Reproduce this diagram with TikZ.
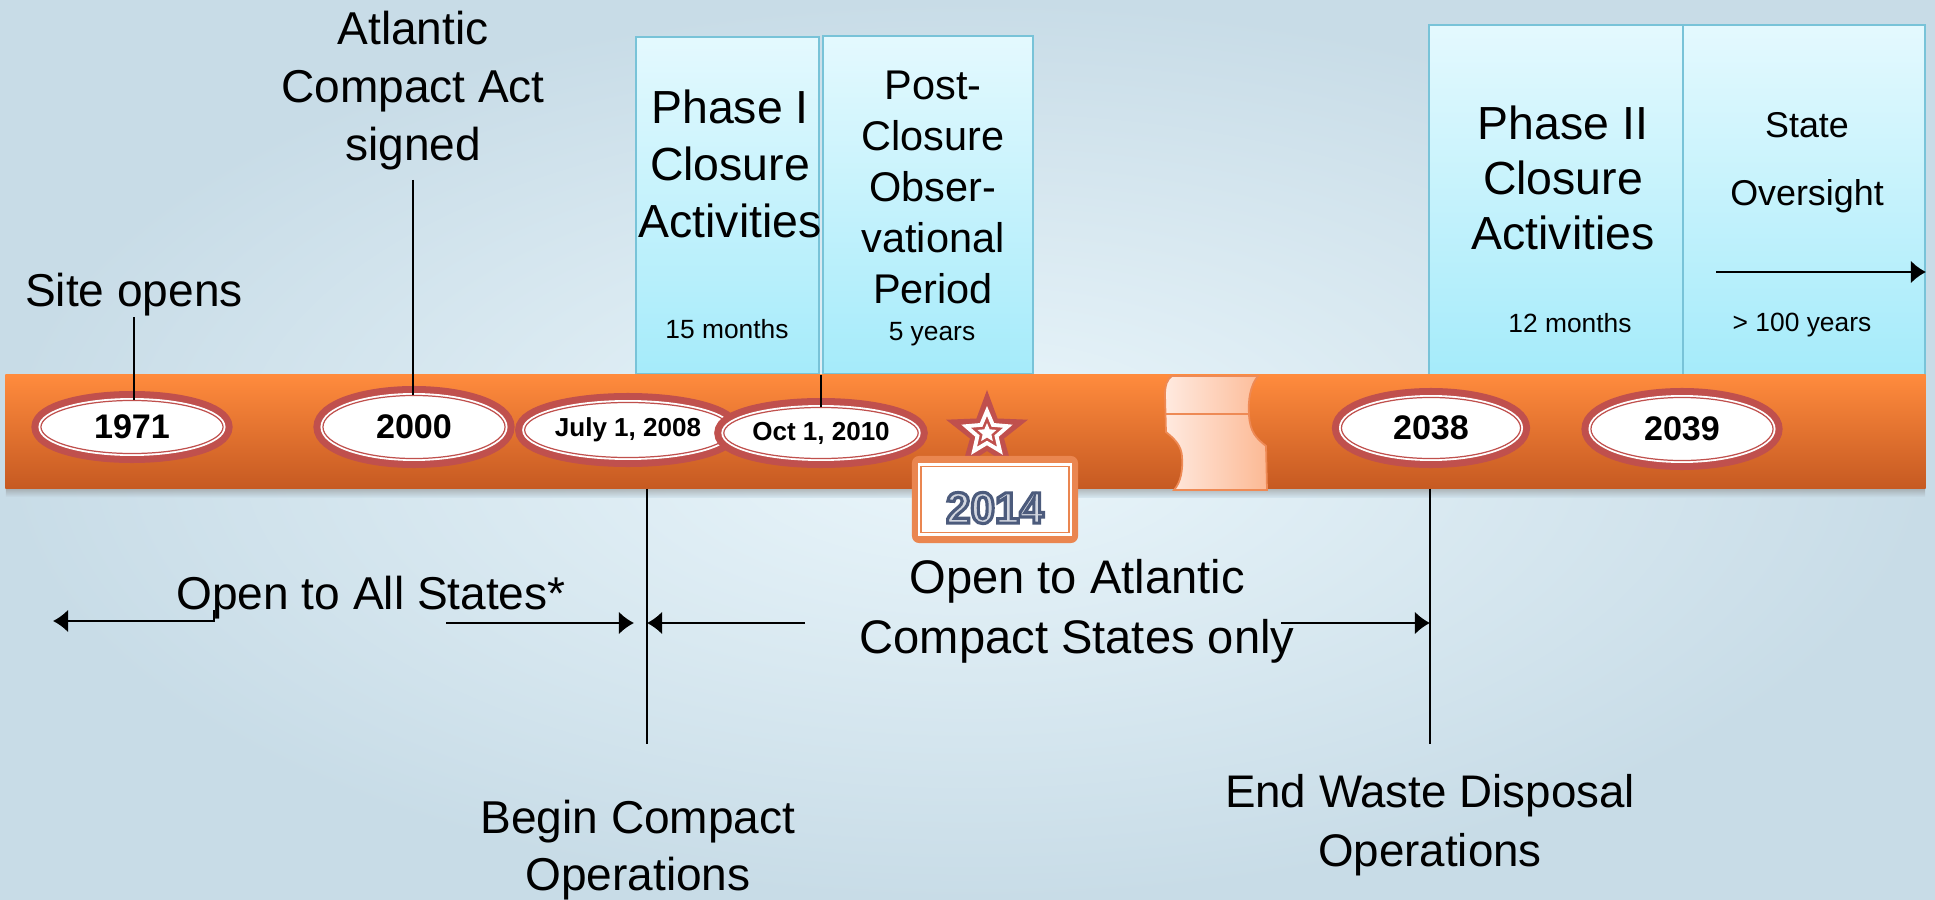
\documentclass[tikz,border=0pt]{standalone}
\usepackage{fontspec}
\setmainfont{Liberation Sans}
\usepackage{tikz}
\usetikzlibrary{shapes,arrows.meta,positioning}

\definecolor{bgout}{HTML}{C8DCE7}
\definecolor{bgin}{HTML}{EAF6FB}
\definecolor{bandtop}{HTML}{FF8B3D}
\definecolor{bandmid}{HTML}{F2772E}
\definecolor{bandbot}{HTML}{C65A22}
\definecolor{datered}{HTML}{C0504D}
\definecolor{boxtop}{HTML}{E4F9FE}
\definecolor{boxbot}{HTML}{A5EBFA}
\definecolor{boxline}{HTML}{78C3D8}
\definecolor{peachl}{HTML}{FFEAE0}
\definecolor{peachd}{HTML}{FCB994}
\definecolor{peachline}{HTML}{EE8A55}
\definecolor{tagorange}{HTML}{EA8650}
\definecolor{slate}{HTML}{4C5B7C}
\definecolor{slatefill}{HTML}{D3D7E0}

% outlined year text
\newcommand{\outlined}[1]{{\color{slatefill}\special{pdf:literal direct 2 Tr 0.9 w 0.298 0.357 0.486 RG}#1\special{pdf:literal direct 0 Tr}}}

\tikzset{
  band/.style={rectangle, inner sep=0pt, minimum width=19.19cm, minimum height=1.13cm,
    top color=bandtop, middle color=bandmid, bottom color=bandbot},
  datebubble/.style={ellipse, inner sep=0pt, fill=white, draw=datered, line width=0.35pt,
    preaction={draw=datered, line width=5.4pt}, preaction={draw=white, line width=1.4pt},
    font=\bfseries\fontsize{9.7}{10}\selectfont},
  smalldate/.style={datebubble, font=\bfseries\fontsize{7.4}{8}\selectfont},
  phasebox/.style={rectangle, inner sep=0pt, draw=boxline, line width=0.5pt,
    top color=boxtop, bottom color=boxbot},
  boxtitle/.style={align=center, inner sep=0pt, font=\fontsize{13.2}{16.2}\selectfont},
  durat/.style={inner sep=0pt, font=\fontsize{7.5}{9}\selectfont},
  label/.style={align=center, inner sep=0pt, font=\fontsize{13.1}{16.5}\selectfont},
  conn/.style={draw=black, line width=0.6pt},
  brk/.style={draw=peachline, line width=0.5pt, left color=peachl, right color=peachd},
  tagtxt/.style={inner sep=0pt, font=\bfseries\fontsize{12.5}{13}\selectfont}
}

\begin{document}
\begin{tikzpicture}[x=0.01cm, y=-0.01cm, >={Latex[length=4.3pt,width=6.5pt]}]
\useasboundingbox (0,0) rectangle (1935,900);
\shade[inner color=bgin, outer color=bgout] (0,0) rectangle (1935,900);

% phase boxes above the bar
\node[phasebox, minimum width=1.83cm, minimum height=3.37cm] (phase1) at (727.5,205.5) {};
\node[phasebox, minimum width=2.10cm, minimum height=3.38cm] (post) at (928,205) {};
\node[phasebox, minimum width=2.54cm, minimum height=3.50cm] (phase2) at (1556,200) {};
\node[phasebox, minimum width=2.42cm, minimum height=3.50cm] (state) at (1804,200) {};

\node[boxtitle] (p1title) at (730,164) {Phase I\\Closure\\Activities};
\node[durat] (p1dur) at (727,329) {15 months};
\node[boxtitle, font=\fontsize{11.8}{14.5}\selectfont] (posttitle) at (933,187) {Post-\\Closure\\Obser-\\vational\\Period};
\node[durat] (postdur) at (932,334) {5 years};
\node[boxtitle, font=\fontsize{13.2}{15.6}\selectfont] (p2title) at (1563,178) {Phase II\\Closure\\Activities};
\node[durat] (p2dur) at (1570,323) {12 months};
\node[boxtitle, font=\fontsize{10.2}{19.3}\selectfont] (sotitle) at (1807,163) {State\\Oversight};
\node[durat] (sodur) at (1802,325) {> 100 years};
\coordinate (so) at (1716,272);
\draw[conn, ->] (so) -- (so -| state.east);

% the bar
\shade[top color=black!45, bottom color=bgout, opacity=0.6] (6,488) rectangle (1925,497);
\node[band] (band) at (965.5,431.5) {};
\draw[brk] (1172,376) -- (1258,376) .. controls (1250,386) and (1248,400) .. (1249,415)
  .. controls (1250,432) and (1256,438) .. (1266,446) -- (1267,490) -- (1174,490)
  .. controls (1181,482) and (1183,470) .. (1182,456) .. controls (1181,446) and (1176,440) .. (1166,432)
  -- (1165,395) .. controls (1165,386) and (1167,379) .. (1172,376) -- cycle;
\draw[peachline, line width=0.4pt] (1165,414) -- (1249,414);

% dates
\node[datebubble, minimum width=1.82cm, minimum height=0.53cm] (e1971) at (132,427) {1971};
\node[datebubble, minimum width=1.82cm, minimum height=0.63cm] (e2000) at (414,427) {2000};
\node[smalldate, minimum width=1.79cm, minimum height=0.55cm] (e2008) at (628,430) {July 1, 2008};
\node[smalldate, minimum width=1.81cm, minimum height=0.51cm] (e2010) at (821,433) {Oct 1, 2010};
\node[datebubble, minimum width=1.79cm, minimum height=0.61cm] (e2038) at (1431,428) {2038};
\node[datebubble, minimum width=1.82cm, minimum height=0.63cm] (e2039) at (1682,429) {2039};

% today marker
\node[star, star points=5, star point ratio=2.4, inner sep=0pt, fill=datered, minimum size=0.86cm] (star) at (987,433) {};
\node[star, star points=5, star point ratio=2.2, inner sep=0pt, fill=datered, draw=white, line width=1.1pt, minimum size=0.44cm] (starin) at (star.center) {};
\node[star, star points=5, star point ratio=2.2, inner sep=0pt, fill=white, minimum size=0.2cm] (starcore) at (star.center) {};
\node[rectangle, rounded corners=2pt, inner sep=0pt, fill=tagorange, minimum width=1.66cm, minimum height=0.87cm] (tag) at (995,499.5) {};
\node[rectangle, inner sep=0pt, fill=white, draw=tagorange, line width=0.45pt, double=white, double distance=0.8pt, minimum width=1.52cm, minimum height=0.70cm] (tagin) at (tag.center) {};
\node[tagtxt] (yr2014) at (995,508) {\outlined{2014}};

% labels above
\node[label] (site) at (134,295) {Site opens};
\node[label] (act) at (413,91) {Atlantic\\Compact Act\\signed};
\draw[conn] (site.south) -- (site.south |- e1971.north);
\draw[conn, shorten <=2.5pt] (act.south) -- (act.south |- e2000.north);
\draw[conn] (e2010.north) -- (e2010.north |- post.south);

% labels below
\coordinate (cbeg) at (647,744);
\coordinate (cend) at (1430,744);
\draw[conn] (band.south -| cbeg) -- (cbeg);
\draw[conn] (band.south -| cend) -- (cend);
\node[label] (allst) at (371,598) {Open to All States*};
\node[label, font=\fontsize{13.4}{17}\selectfont] (atl) at (1077,611) {Open to Atlantic\\Compact States only};
\node[label, font=\fontsize{13.1}{16.2}\selectfont] (begin) at (638,850) {Begin Compact\\Operations};
\node[label, font=\fontsize{13.0}{16.8}\selectfont] (endw) at (1430,825) {End Waste Disposal\\Operations};

\coordinate (lft) at (53,621);
\coordinate (rs) at (446,623);
\coordinate (ls) at (805,623);
\coordinate (rs2) at (1281,623);
\draw[conn, ->] ([xshift=0.38cm]allst.base west) |- (lft);
\draw[conn, ->, shorten >=3.7pt] (rs) -- (rs -| cbeg);
\draw[conn, ->] (ls) -- (ls -| cbeg);
\draw[conn, ->] (rs2) -- (rs2 -| cend);
\end{tikzpicture}
\end{document}
